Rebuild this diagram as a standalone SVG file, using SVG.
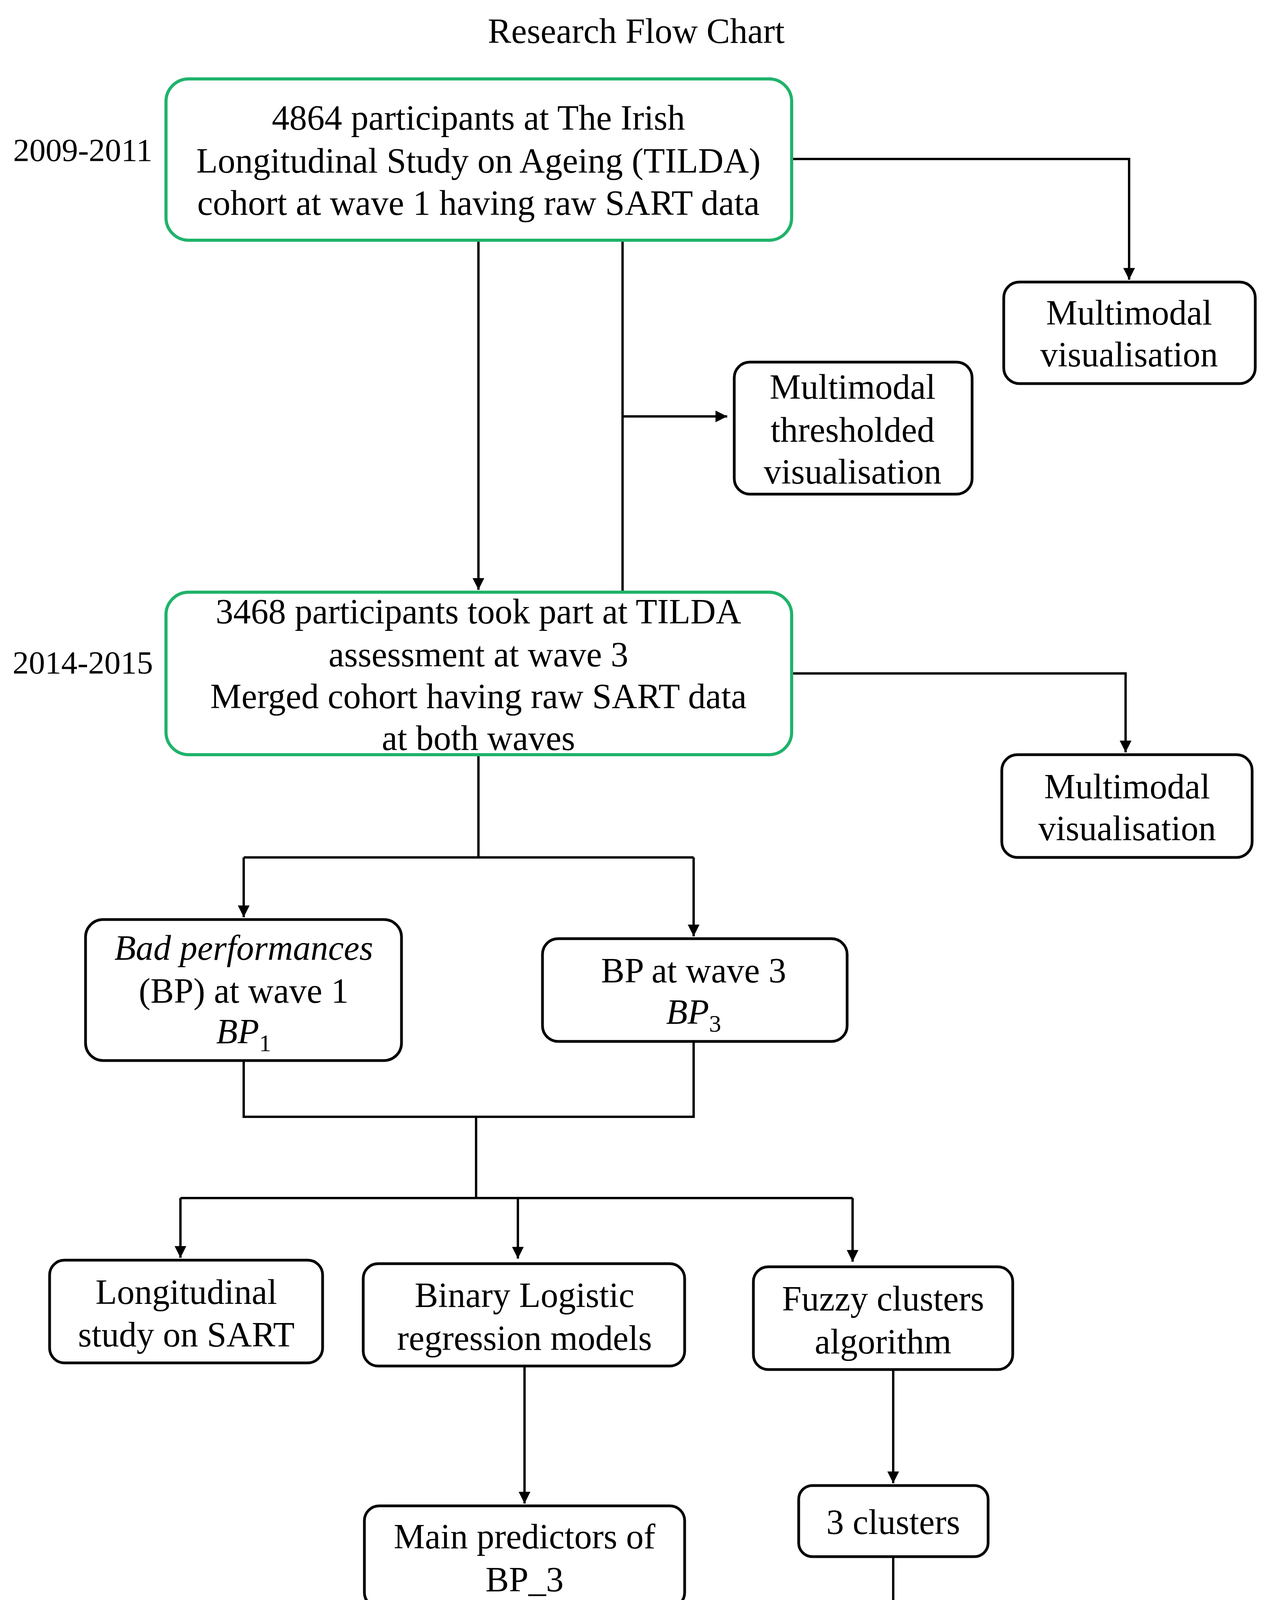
<svg xmlns="http://www.w3.org/2000/svg" width="3262" height="4550" viewBox="0 0 3262 4550">
<style>
text{font-family:"Liberation Serif","Times New Roman",serif;font-size:90px;fill:#000;text-anchor:middle}
.yr{font-size:83px}
.g{fill:#fff;stroke:#1fb36b;stroke-width:8}
.b{fill:#fff;stroke:#000;stroke-width:7}
.c{fill:none;stroke:#000;stroke-width:6}
.i{font-style:italic}
</style>
<defs><marker id="a" viewBox="0 0 10 10" refX="10" refY="5" markerWidth="5" markerHeight="5" markerUnits="strokeWidth" orient="auto"><path d="M0,0L10,5L0,10z" fill="#000"/></marker></defs>
<rect width="3262" height="4550" fill="#fff"/>
<text x="1629" y="110" font-size="120">Research Flow Chart</text>
<text class="yr" x="212" y="412">2009-2011</text>
<text class="yr" x="212" y="1724">2014-2015</text>
<g id="connectors" class="c">
<path d="M1225,615V1510" marker-end="url(#a)"/>
<path d="M1594,615V1516"/>
<path d="M1594,1066H1862" marker-end="url(#a)"/>
<path d="M2027,407H2891V716" marker-end="url(#a)"/>
<path d="M2027,1724H2882V1926" marker-end="url(#a)"/>
<path d="M1225,1932V2195"/>
<path d="M624,2195H1776"/>
<path d="M624,2195V2348" marker-end="url(#a)"/>
<path d="M1776,2195V2397" marker-end="url(#a)"/>
<path d="M624,2715V2859H1776V2666"/>
<path d="M1219,2859V3067"/>
<path d="M462,3067H2183"/>
<path d="M462,3067V3220" marker-end="url(#a)"/>
<path d="M1326,3067V3222" marker-end="url(#a)"/>
<path d="M2183,3067V3230" marker-end="url(#a)"/>
<path d="M1343,3497V3849" marker-end="url(#a)"/>
<path d="M2287,3506V3797" marker-end="url(#a)"/>
<path d="M2287,3985V4268" marker-end="url(#a)"/>
</g>
<g id="n1"><rect class="g" x="425" y="202" width="1602" height="413" rx="58"/>
<text x="1225" y="332">4864 participants at The Irish</text><text x="1225" y="442">Longitudinal Study on Ageing (TILDA)</text><text x="1225" y="550">cohort at wave 1 having raw SART data</text></g>
<g id="n2"><rect class="b" x="2570" y="722" width="644" height="260" rx="40"/>
<text x="2891" y="831">Multimodal</text><text x="2891" y="938">visualisation</text></g>
<g id="n3"><rect class="b" x="1880" y="927" width="609" height="338" rx="40"/>
<text x="2183" y="1021">Multimodal</text><text x="2183" y="1131">thresholded</text><text x="2183" y="1238">visualisation</text></g>
<g id="n4"><rect class="g" x="425" y="1516" width="1602" height="416" rx="58"/>
<text x="1225" y="1596">3468 participants took part at TILDA</text><text x="1225" y="1706">assessment at wave 3</text><text x="1225" y="1813">Merged cohort having raw SART data</text><text x="1225" y="1920">at both waves</text></g>
<g id="n5"><rect class="b" x="2565" y="1932" width="641" height="263" rx="40"/>
<text x="2886" y="2044">Multimodal</text><text x="2886" y="2151">visualisation</text></g>
<g id="n6"><rect class="b" x="219" y="2354" width="809" height="361" rx="45"/>
<text class="i" x="624" y="2457">Bad performances</text><text x="624" y="2567">(BP) at wave 1</text><text class="i" x="624" y="2671">BP<tspan font-style="normal" font-size="62" dy="20">1</tspan></text></g>
<g id="n7"><rect class="b" x="1389" y="2403" width="780" height="263" rx="40"/>
<text x="1776" y="2515">BP at wave 3</text><text class="i" x="1776" y="2621">BP<tspan font-style="normal" font-size="62" dy="20">3</tspan></text></g>
<g id="n8"><rect class="b" x="127" y="3226" width="699" height="263" rx="38"/>
<text x="477" y="3338">Longitudinal</text><text x="477" y="3447">study on SART</text></g>
<g id="n9"><rect class="b" x="930" y="3235" width="823" height="262" rx="38"/>
<text x="1343" y="3346">Binary Logistic</text><text x="1343" y="3456">regression models</text></g>
<g id="n10"><rect class="b" x="1929" y="3243" width="664" height="263" rx="38"/>
<text x="2261" y="3355">Fuzzy clusters</text><text x="2261" y="3465">algorithm</text></g>
<g id="n11"><rect class="b" x="933" y="3855" width="820" height="260" rx="38"/>
<text x="1343" y="3964">Main predictors of</text><text x="1343" y="4074">BP_3</text></g>
<g id="n12"><rect class="b" x="2045" y="3803" width="485" height="182" rx="35"/>
<text x="2287" y="3927">3 clusters</text></g>
<g id="n13"><rect class="b" x="1947" y="4274" width="681" height="217" rx="35"/>
<text x="2287" y="4363">Clusters</text><text x="2287" y="4473">characterisation</text></g>
</svg>
